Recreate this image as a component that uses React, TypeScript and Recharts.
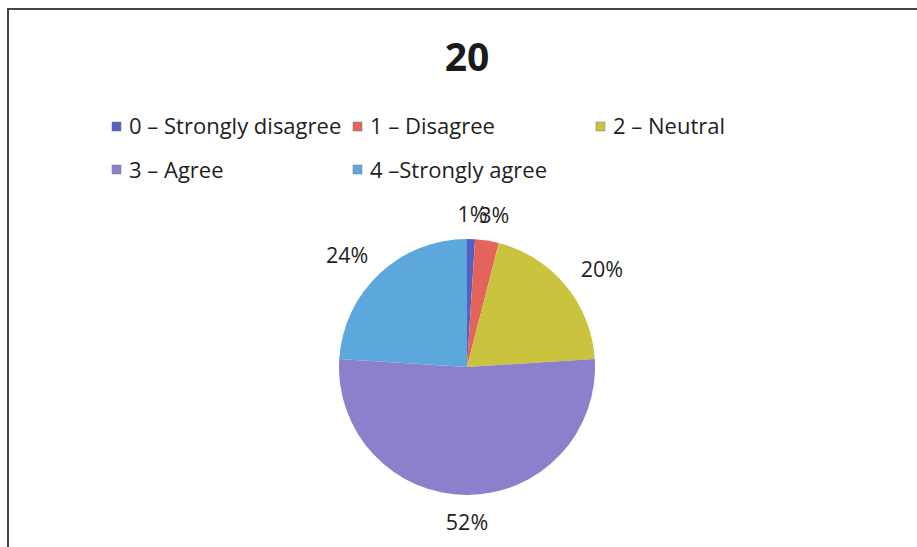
import React from 'react';
import { PieChart, Pie, Cell, Legend } from 'recharts';

const title = '20';
const categories = ['0 – Strongly disagree', '1 – Disagree', '2 – Neutral', '3 – Agree', '4 –Strongly agree'];
const values = [1, 3, 20, 52, 24];
const percentLabels = ['1%', '3%', '20%', '52%', '24%'];
const colors = ['#5561c2', '#e4645c', '#c9c33e', '#8c80cc', '#5ca7dc'];

const data = categories.map((name, i) => ({ name, value: values[i], label: percentLabels[i] }));

const FONT = '"Open Sans", sans-serif';
const RAD = Math.PI / 180;

// legend layout (square left, square top, text baseline)
const legendLayout = [
  { x: 112, y: 122, base: 134 },
  { x: 353, y: 122, base: 134 },
  { x: 596, y: 122, base: 134 },
  { x: 112, y: 165, base: 178 },
  { x: 353, y: 165, base: 178 },
];

const renderLabel = (props: any) => {
  const { cx, cy, midAngle, outerRadius, index } = props;
  const c = Math.cos(-midAngle * RAD);
  const s = Math.sin(-midAngle * RAD);
  const d = outerRadius + 15;
  const x = cx + d * c + c * 32;
  const y = cy + d * s + s * 11;
  return (
    <text key={index} x={x} y={y} textAnchor="middle" dominantBaseline="central" fill="#1e1e1e" fontFamily={FONT} fontSize={21.5}>
      {data[index].label}
    </text>
  );
};

const renderLegend = () => (
  <svg width={917} height={200} style={{ display: 'block' }}>
    <text x={467} y={71} textAnchor="middle" fontFamily={FONT} fontWeight={700} fontSize={39} fill="#1a1a1a">{title}</text>
    {categories.map((name, i) => (
      <g key={name}>
        <rect x={legendLayout[i].x} y={legendLayout[i].y} width={9} height={9} fill={colors[i]} stroke="#777" strokeWidth={0.5} />
        <text x={legendLayout[i].x + 17} y={legendLayout[i].base} fontFamily={FONT} fontSize={22} fill="#1e1e1e">{name}</text>
      </g>
    ))}
  </svg>
);

export default function App() {
  return (
    <div style={{ position: 'absolute', left: 0, top: 0, width: 917, height: 547, background: '#fff', overflow: 'hidden' }}>
      <div style={{ position: 'absolute', left: 7, top: 8, width: 930, height: 560, borderLeft: '2px solid #4a4242', borderTop: '2px solid #4a4242' }} />
      <PieChart width={917} height={547} margin={{ top: 0, right: 0, bottom: 0, left: 0 }} style={{ position: 'absolute', left: 0, top: 0 }}>
        <Pie
          data={data}
          dataKey="value"
          nameKey="name"
          cx={467}
          cy={367}
          outerRadius={128}
          startAngle={90}
          endAngle={-270}
          stroke="none"
          label={renderLabel}
          labelLine={false}
          isAnimationActive={false}
        >
          {data.map((d, i) => (
            <Cell key={d.name} fill={colors[i]} />
          ))}
        </Pie>
        <Legend content={renderLegend} wrapperStyle={{ position: 'absolute', left: 0, top: 0, width: 917, height: 200 }} />
      </PieChart>
    </div>
  );
}
